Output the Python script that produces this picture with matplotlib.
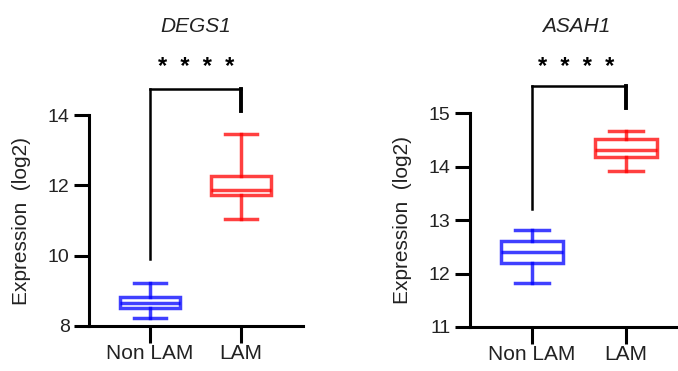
import matplotlib
matplotlib.use('Agg')
import matplotlib.pyplot as plt

plt.rcParams['font.family'] = ['Liberation Sans', 'DejaVu Sans']

# ----------------------------------------------------------------
# Data
# ----------------------------------------------------------------
groups = ['Non LAM', 'LAM']
colors = ['#0000ff', '#ff0000']

genes = ['DEGS1', 'ASAH1']
# box stats per gene, one entry per group: whislo, q1, med, q3, whishi
whislo = [[8.24, 11.03], [11.82, 13.92]]
q1     = [[8.52, 11.72], [12.19, 14.18]]
med    = [[8.66, 11.86], [12.40, 14.30]]
q3     = [[8.82, 12.26], [12.61, 14.51]]
whishi = [[9.23, 13.45], [12.81, 14.66]]

ylims  = [(8, 14), (11, 15)]
yticks = [[8, 10, 12, 14], [11, 12, 13, 14, 15]]

# significance bracket: left leg bottom, top, right leg bottom
bracket = [(9.9, 14.73, 14.1), (13.2, 15.5, 15.09)]
sig_label = '*  *  *  *'

# ----------------------------------------------------------------
# Figure
# ----------------------------------------------------------------
W, H = 678, 371
fig = plt.figure(figsize=(W / 100, H / 100), dpi=100)
ax_pos = [[0.1313, 0.1213, 0.3156, 0.5687],
          [0.6932, 0.1186, 0.3200, 0.5768]]
xlims = [(-0.67, 1.68), (-0.66, 1.65)]
title_x = [196, 576]

for g, gene in enumerate(genes):
    ax = fig.add_axes(ax_pos[g])
    stats = []
    for i, name in enumerate(groups):
        stats.append(dict(whislo=whislo[g][i], q1=q1[g][i], med=med[g][i],
                          q3=q3[g][i], whishi=whishi[g][i], label=name))
    for i in range(len(groups)):
        c = colors[i]
        ax.bxp([stats[i]], positions=[i], widths=0.66, showfliers=False,
               patch_artist=True, capwidths=0.36,
               boxprops=dict(facecolor='white', edgecolor=c, linewidth=2.5, alpha=0.75),
               medianprops=dict(color=c, linewidth=2.5, alpha=0.75),
               whiskerprops=dict(color=c, linewidth=2.5, alpha=0.75),
               capprops=dict(color=c, linewidth=2.5, alpha=0.75))

    ax.set_xlim(*xlims[g])
    ax.set_ylim(*ylims[g])
    ax.set_yticks(yticks[g])
    ax.set_xticks(range(len(groups)))
    ax.set_xticklabels(groups)

    for s in ['top', 'right']:
        ax.spines[s].set_visible(False)
    for s in ['left', 'bottom']:
        ax.spines[s].set_linewidth(2.2)
    ax.tick_params(axis='y', length=11, width=2.2, labelsize=14, pad=3,
                   labelcolor='#222222')
    ax.tick_params(axis='x', length=12, width=2.2, labelsize=15, pad=1,
                   labelcolor='#222222')
    ax.set_ylabel('Expression  (log2)', fontsize=15, color='#222222', labelpad=12)

    # bracket + stars
    yl, yt, yr = bracket[g]
    ax.plot([0, 0], [yl, yt], color='k', lw=1.8, clip_on=False)
    ax.plot([0, 1], [yt, yt], color='k', lw=1.8, clip_on=False)
    ax.plot([1, 1], [yt, yr], color='k', lw=2.8, clip_on=False)

    fig.text(title_x[g] / W, 1 - 68 / H, sig_label, ha='center', va='center',
             fontsize=17, fontweight='bold')
    fig.text(title_x[g] / W, 1 - 26 / H, gene, ha='center', va='center',
             fontsize=15, style='italic', color='#222222')

fig.savefig('out.png', dpi=100)
